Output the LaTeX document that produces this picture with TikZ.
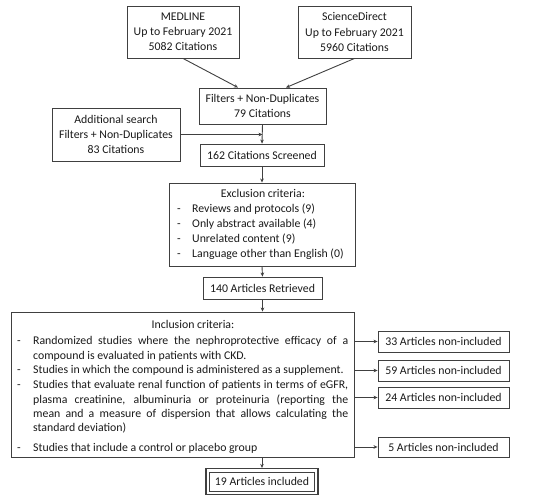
\documentclass[tikz,border=0pt]{standalone}
\usepackage{fontspec}
\setmainfont{Carlito}
\usetikzlibrary{arrows.meta,calc}
\definecolor{ln}{HTML}{404040}
\definecolor{tx}{HTML}{1A1A1A}
\newcommand{\critem}[1]{\makebox[16pt][l]{-}\parbox[t]{315pt}{#1}}
\begin{document}
\begin{tikzpicture}[x=1pt,y=-1pt,
  box/.style={draw=ln, line width=0.9pt, text=tx, align=center, inner sep=0pt,
    font=\fontsize{11.8}{15.2}\selectfont},
  arr/.style={draw=ln, line width=0.9pt, -{Stealth[length=4pt,width=3.6pt]}},
  txt/.style={text=tx, inner sep=0pt, font=\fontsize{11.8}{14.2}\selectfont},
  item/.style={txt, anchor=base west}]
\useasboundingbox[fill=white] (0,0) rectangle (550,502);

\node[box, minimum width=112pt, minimum height=52pt] (med) at (183,32) {MEDLINE\\Up to February 2021\\5082 Citations};
\node[box, minimum width=113pt, minimum height=52pt] (sd) at (354.5,32) {ScienceDirect\\Up to February 2021\\5960 Citations};
\node[box, minimum width=127pt, minimum height=36pt] (filt) at (262.5,106) {Filters + Non-Duplicates\\79 Citations};
\node[box, minimum width=128pt, minimum height=53pt] (add) at (116,134.5) {Additional search\\Filters + Non-Duplicates\\83 Citations};
\node[box, minimum width=124pt, minimum height=22pt] (scr) at (262,155) {162 Citations Screened};
\node[box, minimum width=186pt, minimum height=83pt] (exc) at (262,224.5) {};
\node[txt, anchor=base] (exct) at (263,198) {Exclusion criteria:};
\node[txt, anchor=base west, align=left] (exc1) at (177,213) {\makebox[15pt][l]{-}Reviews and protocols (9)};
\node[txt, anchor=base west, align=left] (exc2) at (177,228) {\makebox[15pt][l]{-}Only abstract available (4)};
\node[txt, anchor=base west, align=left] (exc3) at (177,243) {\makebox[15pt][l]{-}Unrelated content (9)};
\node[txt, anchor=base west, align=left] (exc4) at (177,257.5) {\makebox[15pt][l]{-}Language other than English (0)};
\node[box, minimum width=119pt, minimum height=22pt] (ret) at (262.5,288) {140 Articles Retrieved};

\node[box, minimum width=343pt, minimum height=145pt] (inc) at (182.5,384.5) {};
\node[txt, anchor=base] (inct) at (193,329) {Inclusion criteria:};
\node[item] (inc1) at (17,345) {\critem{Randomized studies where the nephroprotective efficacy of a\linebreak compound is evaluated in patients with CKD.}};
\node[item] (inc2) at (17,374) {\critem{Studies in which the compound is administered as a supplement.}};
\node[item] (inc3) at (17,389) {\critem{Studies that evaluate renal function of patients in terms of eGFR,\linebreak plasma creatinine, albuminuria or proteinuria (reporting the\linebreak mean and a measure of dispersion that allows calculating the\linebreak standard deviation)}};
\node[item] (inc4) at (17,451.5) {\critem{Studies that include a control or placebo group}};

\node[box, minimum width=131pt, minimum height=21pt] (n33) at (443.5,341.5) {33 Articles non-included};
\node[box, minimum width=131pt, minimum height=21pt] (n59) at (443.5,370.5) {59 Articles non-included};
\node[box, minimum width=131pt, minimum height=21pt] (n24) at (443.5,397.5) {24 Articles non-included};
\node[box, minimum width=131pt, minimum height=20pt] (n5) at (443.5,447) {5 Articles non-included};

\node[box, line width=0.8pt, minimum width=105pt, minimum height=19pt] (fin) at (262,481.5) {19 Articles included};
\draw[ln, line width=1.4pt] ([shift={(-3pt,3pt)}]fin.north west) rectangle ([shift={(3pt,-3pt)}]fin.south east);

\draw[arr] (med.south) -- ([xshift=-24.5pt]filt.north);
\draw[arr] (sd.south) -- ([xshift=23.5pt]filt.north);
\draw[arr] (filt.south) -- (scr.north);
\coordinate (join) at (add.east -| filt.south);
\draw[arr] (add.east) -- (join);
\draw[arr] (scr.south) -- (exc.north);
\draw[arr] (exc.south) -- (ret.north);
\draw[arr] (ret.south) -- (ret.south |- inc.north);
\draw[arr] (inc.east |- n33.west) -- (n33.west);
\draw[arr] (inc.east |- n59.west) -- (n59.west);
\draw[arr] (inc.east |- n24.west) -- (n24.west);
\draw[arr] (inc.east |- n5.west) -- (n5.west);
\draw[arr] (fin.north |- inc.south) -- ([yshift=3.7pt]fin.north);
\end{tikzpicture}
\end{document}
